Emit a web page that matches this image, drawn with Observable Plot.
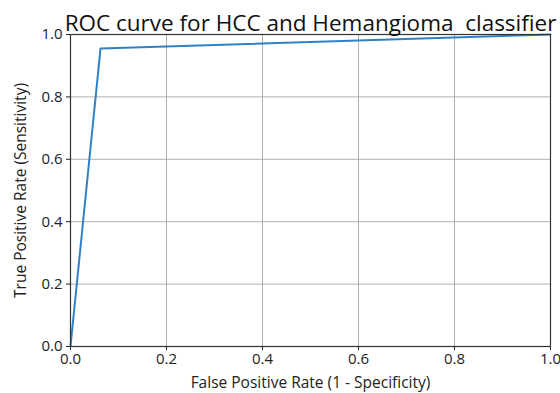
<!DOCTYPE html>
<html>
<head>
<meta charset="utf-8">
<script src="https://cdn.jsdelivr.net/npm/d3@7"></script>
<script src="https://cdn.jsdelivr.net/npm/@observablehq/plot@0.6"></script>
<style>
  html, body { margin: 0; padding: 0; background: #fff; }
</style>
</head>
<body>
<div id="chart"></div>
<script>
const fpr = [0.0, 0.0625, 1.0];
const tpr = [0.0, 0.955, 1.0];
const ticks = [0, 0.2, 0.4, 0.6, 0.8, 1.0];
const title = "ROC curve for HCC and Hemangioma  classifier";
const xLabel = "False Positive Rate (1 - Specificity)";
const yLabel = "True Positive Rate (Sensitivity)";

const data = fpr.map((x, i) => ({x, y: tpr[i]}));
const font = "Open Sans, DejaVu Sans, sans-serif";

const chart = Plot.plot({
  width: 560,
  height: 393,
  marginLeft: 70,
  marginRight: 10,
  marginTop: 34,
  marginBottom: 47,
  style: {fontFamily: font, fontSize: "15px", color: "#222", background: "#fff"},
  x: {domain: [0, 1], ticks, tickFormat: d3.format(".1f"), label: null},
  y: {domain: [0, 1], ticks, tickFormat: d3.format(".1f"), label: null},
  marks: [
    Plot.gridX(ticks, {stroke: "#b0b0b0", strokeOpacity: 1, strokeWidth: 1}),
    Plot.gridY(ticks, {stroke: "#b0b0b0", strokeOpacity: 1, strokeWidth: 1}),
    Plot.axisX({ticks, tickFormat: d3.format(".1f"), tickSize: 4, tickPadding: 3, fontSize: 15, label: null}),
    Plot.axisY({ticks, tickFormat: d3.format(".1f"), tickSize: 4, tickPadding: 4, fontSize: 15, label: null}),
    Plot.line(data, {x: "x", y: "y", stroke: "#2f80c4", strokeWidth: 2}),
    Plot.frame({stroke: "#333", strokeWidth: 1.2}),
    Plot.text([title], {frameAnchor: "top", dy: -19, fontSize: 22.5, fill: "#111", text: d => d}),
    Plot.text([xLabel], {frameAnchor: "bottom", dy: 41, fontSize: 15.5, fill: "#222", text: d => d}),
    Plot.text([yLabel], {frameAnchor: "left", dx: -49, rotate: -90, textAnchor: "middle", fontSize: 15.5, fill: "#222", text: d => d})
  ]
});
document.getElementById("chart").appendChild(chart);
</script>
</body>
</html>
